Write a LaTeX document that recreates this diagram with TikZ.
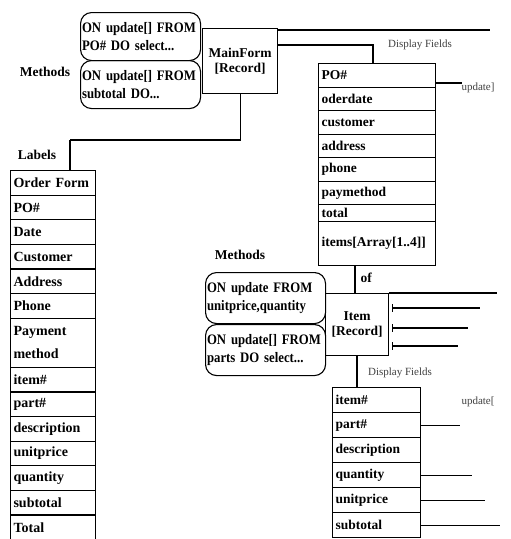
\documentclass[tikz,border=0pt]{standalone}
\usepackage{fontspec}
\setmainfont{Liberation Serif}
\begin{document}
\begin{tikzpicture}[x=1pt,y=-1pt,
  every node/.style={font=\bfseries\fontsize{13.5}{15.5}\selectfont},
  ln/.style={line width=1.1pt},
  cell/.style={draw, line width=1.1pt, anchor=north west, inner xsep=3pt, inner ysep=0pt, align=left},
  rec/.style={draw, line width=1.1pt, anchor=north west, inner sep=0pt, align=center},
  meth/.style={draw, line width=1.1pt, anchor=north west, rounded corners=11pt, inner xsep=1.5pt, inner ysep=0pt, align=left, text width=117pt, minimum height=48pt,
    font=\bfseries\fontsize{14.5}{18}\selectfont\addfontfeature{FakeStretch=0.88}},
  lab/.style={font=\bfseries\fontsize{13.5}{15.5}\selectfont},
  faint/.style={font=\fontsize{11}{13}\selectfont, text=black!75},
  tick/.style={line width=1.1pt}
]
\useasboundingbox (0,0) rectangle (511,539);

% ---- top part ----
\node[lab] (m1) at (45,72) {Methods};
\node[meth] (o1) at (80,12) {ON update[] FROM\\PO\# DO select...};
\node[meth] (o2) at (80,60) {ON update[] FROM\\subtotal DO...};
\node[rec, minimum width=75pt, minimum height=65pt] (mf) at (202,28) {MainForm\\{[Record]}};

\node[faint] (df1) at (420,45) {Display Fields};
\foreach \n/\t/\y/\h in {po/PO\#/63/23.5, od/oderdate/86.5/23.5, cu/customer/110/23.5, ad/address/133.5/23.5, ph/phone/157/23.5, pm/paymethod/180.5/23.5, to/total/204/16.5, it/{items[Array[1..4]]}/220.5/44.5}
  \node[cell, text width=111pt, minimum height=\h pt] (\n) at (318,\y) {\t};

\coordinate (t1) at (490,30);
\draw[ln] (mf.north east) ++(0,2) -- (t1 |- 0,30);
\draw[ln] (mf.east |- 0,45) -| (po.north -| 373,0);
\coordinate (u1) at (462,83);
\draw[ln] (po.east |- u1) -- (u1);
\node[faint, anchor=west] (up1) at (458,88) {update]};

% ---- labels column ----
\node[lab] (lb) at (37,155) {Labels};
\coordinate (j1) at (70,140);
\draw[ln] (mf.south) |- (j1);
\foreach \n/\t/\k/\hh in {l1/Order Form/0/1, l2/PO\#/1/1, l3/Date/2/1, l4/Customer/3/1, l5/Address/4/1, l6/Phone/5/1, l7/{Payment\\method}/6/2, l8/item\#/8/1, l9/part\#/9/1, l10/description/10/1, l11/unitprice/11/1, l12/quantity/12/1, l13/subtotal/13/1, l14/Total/14/1}
  \node[cell, text width=79pt, minimum height=24.6*\hh pt, font=\bfseries\fontsize{14}{23}\selectfont] (\n) at (10,170+24.6*\k) {\t};
\draw[ln] (j1) -- (j1 |- l1.north);

% ---- item part ----
\node[lab] (m2) at (240,255) {Methods};
\node[meth, minimum height=51pt] (o3) at (205,272) {ON update FROM\\unitprice,quantity};
\node[meth, minimum height=51pt] (o4) at (205,324) {ON update[] FROM\\parts DO select...};
\node[rec, minimum width=63pt, minimum height=62pt] (itm) at (325,293) {Item\\{[Record]}};

\draw[ln] (it.south -| 355,0) -- (itm.north -| 355,0);
\node[lab, anchor=west] (of) at (357,278) {of};
\coordinate (t2) at (497,293);
\draw[ln] (itm.north east) -- (t2);
\foreach \y/\e in {308/480, 328/468, 346/458}{
  \draw[ln] (itm.east |- 0,\y) ++(3,0) -- (\e,\y);
  \draw[tick] (itm.east |- 0,\y) ++(3,-4) -- ++(0,8);
}

\node[faint] (df2) at (400,373) {Display Fields};
\foreach \n/\t/\k in {i1/item\#/0, i2/part\#/1, i3/description/2, i4/quantity/3, i5/unitprice/4, i6/subtotal/5}
  \node[cell, text width=82pt, minimum height=25pt] (\n) at (332,387+25*\k) {\t};
\draw[ln] (itm.south -| 357,0) -- (i1.north -| 357,0);
\node[faint, anchor=west] (up2) at (458,402) {update[};
\foreach \n/\e in {i2/460, i4/472, i5/485, i6/500}
  \draw[ln] (\n.east) -- (\e,0 |- \n.east);
\end{tikzpicture}
\end{document}
